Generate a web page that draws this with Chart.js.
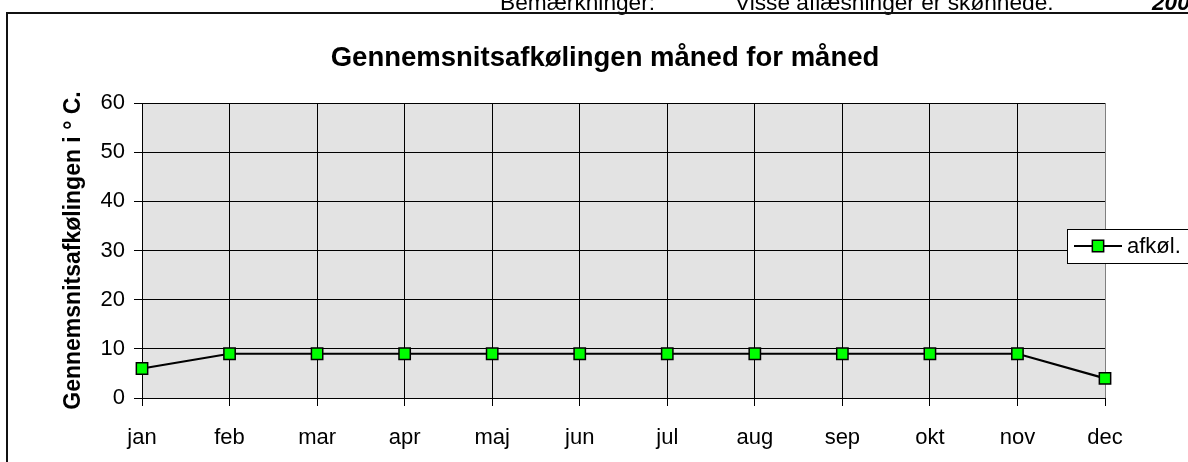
<!DOCTYPE html>
<html>
<head>
<meta charset="utf-8">
<script src="https://cdn.jsdelivr.net/npm/chart.js"></script>
<style>
  html, body { margin: 0; padding: 0; background: #fff; overflow: hidden; }
  #wrap { position: relative; width: 1188px; height: 462px; }
</style>
</head>
<body>
<div id="wrap"><canvas id="chart" width="1188" height="462"></canvas></div>
<script>
// chart data
const months = ['jan', 'feb', 'mar', 'apr', 'maj', 'jun', 'jul', 'aug', 'sep', 'okt', 'nov', 'dec'];
const afkoel = [6, 9, 9, 9, 9, 9, 9, 9, 9, 9, 9, 4];
const yTicks = [0, 10, 20, 30, 40, 50, 60];
const seriesLabel = 'afkøl.';
const chartTitle = 'Gennemsnitsafkølingen måned for måned';
const yTitle = 'Gennemsnitsafkølingen i ° C.';
const headerTexts = ['Bemærkninger:', 'Visse aflæsninger er skønnede.', '2008'];

const FONT = "'Liberation Sans', Arial, sans-serif";

// page frame, header line and grey plot area
const backdrop = {
    id: 'backdrop',
    afterLayout(chart) {
        // the title is centred over the whole frame, not only the plot
        chart.titleBlock.left = 0;
        chart.titleBlock.right = 1210;
        chart.titleBlock.width = 1210;
    },
    beforeDraw(chart) {
        const { ctx, chartArea: a } = chart;
        ctx.save();
        ctx.fillStyle = '#000';
        ctx.textBaseline = 'alphabetic';
        ctx.font = '22.7px ' + FONT;
        ctx.fillText(headerTexts[0], 500, 10);
        ctx.fillText(headerTexts[1], 735, 10);
        ctx.font = 'italic bold 22.7px ' + FONT;
        ctx.fillText(headerTexts[2], 1152, 10);
        ctx.strokeStyle = '#111';
        ctx.lineWidth = 2;
        ctx.strokeRect(7, 13, 1300, 600);
        ctx.fillStyle = '#e3e3e3';
        ctx.fillRect(a.left, a.top, a.right - a.left, a.bottom - a.top);
        ctx.restore();
    }
};

// legend box overlapping the right edge of the plot
const boxLegend = {
    id: 'boxLegend',
    afterDraw(chart) {
        const { ctx } = chart;
        const ds = chart.data.datasets[0];
        const top = 229, bottom = 263, left = 1067, cy = (top + bottom) / 2;
        ctx.save();
        ctx.fillStyle = '#fff';
        ctx.fillRect(left, top, 200, bottom - top);
        ctx.strokeStyle = '#000';
        ctx.lineWidth = 1;
        ctx.strokeRect(left + 0.5, top + 0.5, 200, bottom - top);
        ctx.strokeStyle = ds.borderColor;
        ctx.lineWidth = ds.borderWidth;
        ctx.beginPath();
        ctx.moveTo(1074, cy);
        ctx.lineTo(1122, cy);
        ctx.stroke();
        ctx.fillStyle = ds.pointBackgroundColor;
        ctx.strokeStyle = ds.pointBorderColor;
        ctx.lineWidth = ds.pointBorderWidth;
        ctx.beginPath();
        const s = ds.pointRadius * Math.SQRT1_2;
        ctx.rect(1098 - s, cy - s, 2 * s, 2 * s);
        ctx.fill();
        ctx.stroke();
        ctx.fillStyle = '#000';
        ctx.font = '22px ' + FONT;
        ctx.textBaseline = 'middle';
        ctx.fillText(ds.label, 1127, cy + 1);
        ctx.restore();
    }
};

new Chart(document.getElementById('chart'), {
    type: 'line',
    data: {
        labels: months,
        datasets: [{
            label: seriesLabel,
            data: afkoel,
            borderColor: '#000',
            borderWidth: 2.2,
            tension: 0,
            pointStyle: 'rect',
            pointRadius: 8,
            pointHoverRadius: 8,
            pointBackgroundColor: '#00ff00',
            pointBorderColor: '#000',
            pointBorderWidth: 1.5
        }]
    },
    options: {
        responsive: false,
        animation: false,
        layout: { padding: { left: 0, right: 83, top: 0, bottom: 0 } },
        plugins: {
            legend: { display: false },
            tooltip: { enabled: false },
            title: {
                display: true,
                text: chartTitle,
                color: '#000',
                font: { family: FONT, size: 27.5, weight: 'bold' },
                padding: { top: 42, bottom: 28 }
            }
        },
        scales: {
            x: {
                offset: false,
                afterFit(scale) { scale.height = 64; },
                grid: {
                    color: ctx => ctx.index === months.length - 1 ? '#808080' : '#000',
                    tickColor: '#000',
                    lineWidth: 1,
                    tickLength: 8
                },
                border: { color: '#000', width: 1 },
                ticks: {
                    color: '#000',
                    padding: 19,
                    maxRotation: 0,
                    font: { family: FONT, size: 22 }
                }
            },
            y: {
                min: yTicks[0],
                max: yTicks[yTicks.length - 1],
                afterFit(scale) { scale.width = 142; },
                afterBuildTicks(scale) { scale.ticks = yTicks.map(v => ({ value: v })); },
                grid: { color: '#000', lineWidth: 1, tickLength: 8 },
                border: { color: '#000', width: 1 },
                ticks: {
                    color: '#000',
                    padding: 9,
                    font: { family: FONT, size: 22 }
                },
                title: {
                    display: true,
                    text: yTitle,
                    color: '#000',
                    font: { family: FONT, size: 23, weight: 'bold' },
                    padding: { top: 60, bottom: 0 }
                }
            }
        }
    },
    plugins: [backdrop, boxLegend]
});
</script>
</body>
</html>
